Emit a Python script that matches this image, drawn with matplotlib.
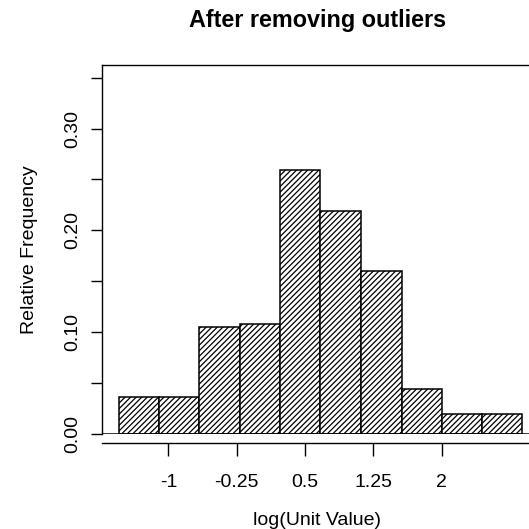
import numpy as np
import matplotlib
matplotlib.use("Agg")
import matplotlib.pyplot as plt

plt.rcParams['font.family'] = ['Liberation Sans', 'DejaVu Sans']
plt.rcParams['hatch.linewidth'] = 0.9

# histogram of log(unit value), relative frequencies
bin_edges = [-1.54, -1.10, -0.66, -0.21, 0.23, 0.67, 1.11, 1.56, 2.00, 2.44, 2.88]
rel_freq = [0.036, 0.036, 0.105, 0.108, 0.259, 0.219, 0.160, 0.044, 0.019, 0.019]

x_ticks = [-1, -0.25, 0.5, 1.25, 2]
x_ticklabels = ['-1', '-0.25', '0.5', '1.25', '2']
y_ticks = [0.00, 0.05, 0.10, 0.15, 0.20, 0.25, 0.30, 0.35]
y_ticklabels = ['0.00', '', '0.10', '', '0.20', '', '0.30', '']

W = 529
fig = plt.figure(figsize=(5.29, 5.29), dpi=100)
# axes runs past the right edge, like the original device region
ax = fig.add_axes([101.7 / W, (W - 433.7) / W, (533 - 101.7) / W, (433.7 - 64.7) / W])

left = np.array(bin_edges[:-1])
widths = np.diff(bin_edges)
ax.bar(left, rel_freq, width=widths, align='edge', facecolor='white',
       edgecolor='black', linewidth=1.1, hatch='//////')
ax.axhline(0, color='black', lw=1.1)

ax.set_xlim(-1.731, 3.002)
ax.set_ylim(0, 0.3628)

ax.spines['right'].set_visible(False)
ax.spines['bottom'].set_position(('outward', 6.9))
for s in ['left', 'top', 'bottom']:
    ax.spines[s].set_linewidth(1.0)

ax.set_xticks(x_ticks)
ax.set_xticklabels(x_ticklabels)
ax.set_yticks(y_ticks)
ax.set_yticklabels(y_ticklabels, rotation=90, va='center')
ax.tick_params(axis='x', length=9, width=1.0, pad=13, labelsize=14)
ax.tick_params(axis='y', length=8, width=1.0, pad=7, labelsize=14)

ax.set_xlabel('log(Unit Value)', fontsize=14, labelpad=15)
ax.set_ylabel('Relative Frequency', fontsize=14)
ax.yaxis.set_label_coords(-0.147, 0.5)

fig.text(317.5 / W, 1 - 21 / W, 'After removing outliers', ha='center', va='center',
         fontsize=16.8, fontweight='bold')

fig.savefig('out.png', dpi=100)
